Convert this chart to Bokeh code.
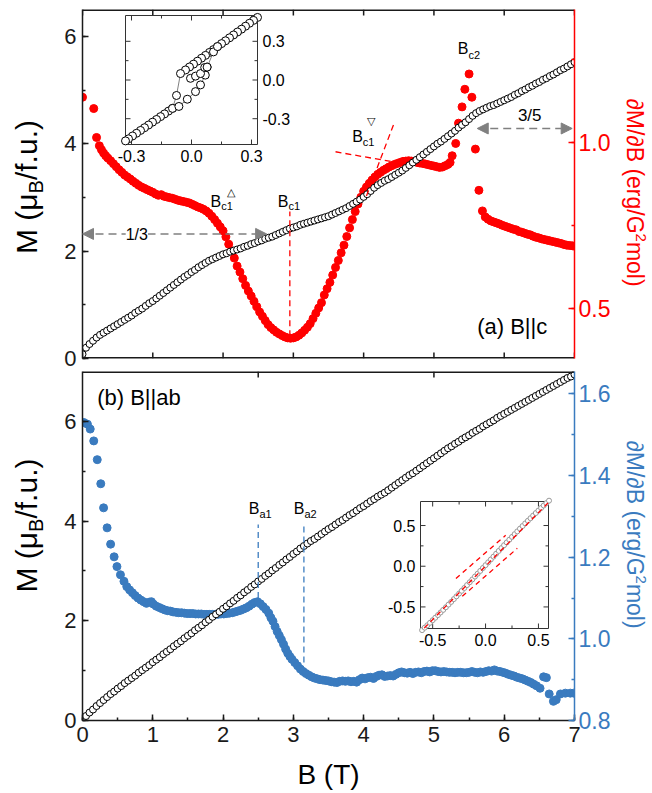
import math
from bokeh.plotting import figure
from bokeh.models import Range1d, LinearAxis, FixedTicker, Label, Arrow, NormalHead
from bokeh.layouts import column, row
from bokeh.embed import file_html
from bokeh.resources import INLINE
from bokeh.core.properties import value

FONT = "Liberation Sans"
RED = "#ff0000"
BLUE = "#3a7bbf"
GRAY = "#808080"
DARK = "#1a1a1a"

# ---------------- data ----------------
B_grid = [0.00,0.05,0.10,0.15,0.20,0.25,0.30,0.35,0.40,0.45,
          0.50,0.55,0.60,0.65,0.70,0.75,0.80,0.85,0.90,0.95,
          1.00,1.05,1.10,1.15,1.20,1.25,1.30,1.35,1.40,1.45,
          1.50,1.55,1.60,1.65,1.70,1.75,1.80,1.85,1.90,1.95,
          2.00,2.05,2.10,2.15,2.20,2.25,2.30,2.35,2.40,2.45,
          2.50,2.55,2.60,2.65,2.70,2.75,2.80,2.85,2.90,2.95,
          3.00,3.05,3.10,3.15,3.20,3.25,3.30,3.35,3.40,3.45,
          3.50,3.55,3.60,3.65,3.70,3.75,3.80,3.85,3.90,3.95,
          4.00,4.05,4.10,4.15,4.20,4.25,4.30,4.35,4.40,4.45,
          4.50,4.55,4.60,4.65,4.70,4.75,4.80,4.85,4.90,4.95,
          5.00,5.05,5.10,5.15,5.20,5.25,5.30,5.35,5.40,5.45,
          5.50,5.55,5.60,5.65,5.70,5.75,5.80,5.85,5.90,5.95,
          6.00,6.05,6.10,6.15,6.20,6.25,6.30,6.35,6.40,6.45,
          6.50,6.55,6.60,6.65,6.70,6.75,6.80,6.85,6.90,6.95,
          7.00]

# M (muB/f.u.), B || c
M_c = [0.08,0.20,0.27,0.33,0.39,0.44,0.48,0.52,0.56,0.60,
       0.64,0.68,0.72,0.76,0.80,0.85,0.89,0.93,0.98,1.03,
       1.07,1.12,1.17,1.22,1.27,1.32,1.37,1.42,1.47,1.52,
       1.56,1.61,1.65,1.70,1.74,1.78,1.82,1.85,1.88,1.91,
       1.94,1.96,1.99,2.01,2.03,2.05,2.08,2.10,2.13,2.15,
       2.18,2.20,2.23,2.25,2.27,2.30,2.33,2.36,2.39,2.42,
       2.44,2.46,2.49,2.51,2.53,2.55,2.57,2.59,2.61,2.63,
       2.65,2.68,2.71,2.74,2.77,2.80,2.84,2.88,2.92,2.96,
       3.01,3.06,3.12,3.18,3.23,3.27,3.31,3.34,3.38,3.42,
       3.46,3.50,3.55,3.60,3.65,3.70,3.75,3.80,3.85,3.90,
       3.95,4.00,4.04,4.09,4.14,4.19,4.24,4.30,4.35,4.40,
       4.46,4.52,4.57,4.61,4.64,4.67,4.70,4.72,4.75,4.78,
       4.81,4.84,4.87,4.91,4.94,4.98,5.01,5.05,5.08,5.12,
       5.15,5.19,5.22,5.26,5.29,5.33,5.37,5.40,5.44,5.48,
       5.52]

# M (muB/f.u.), B || ab
M_ab = [0.03,0.09,0.16,0.22,0.29,0.35,0.41,0.47,0.53,0.58,
        0.64,0.69,0.75,0.80,0.85,0.90,0.96,1.01,1.06,1.11,
        1.17,1.22,1.27,1.33,1.38,1.43,1.49,1.54,1.59,1.65,
        1.70,1.75,1.81,1.86,1.91,1.97,2.02,2.08,2.13,2.18,
        2.24,2.29,2.35,2.40,2.46,2.51,2.57,2.62,2.68,2.73,
        2.79,2.84,2.90,2.95,3.01,3.06,3.12,3.17,3.23,3.28,
        3.34,3.39,3.45,3.50,3.55,3.60,3.64,3.69,3.74,3.79,
        3.84,3.88,3.93,3.98,4.02,4.07,4.12,4.16,4.21,4.26,
        4.30,4.35,4.40,4.44,4.49,4.53,4.57,4.62,4.67,4.72,
        4.77,4.82,4.87,4.92,4.96,5.01,5.06,5.11,5.16,5.21,
        5.26,5.31,5.36,5.41,5.46,5.50,5.55,5.59,5.64,5.68,
        5.72,5.77,5.81,5.85,5.90,5.94,5.98,6.02,6.07,6.11,
        6.15,6.19,6.23,6.27,6.31,6.35,6.39,6.43,6.47,6.51,
        6.55,6.59,6.63,6.67,6.71,6.75,6.79,6.83,6.87,6.90,
        6.94]

# dM/dB (erg/G^2 mol), B || c : (B, value)
chi_c_pts = [(0.00,1.136),(0.16,1.102),(0.20,1.015),(0.24,0.990),(0.27,0.978),(0.30,0.968),
             (0.33,0.960),(0.36,0.953),(0.40,0.945),(0.44,0.936),(0.48,0.927),(0.52,0.918),
             (0.56,0.910),(0.60,0.902),(0.64,0.896),(0.68,0.890),(0.72,0.883),(0.76,0.877),
             (0.80,0.871),(0.84,0.866),(0.88,0.862),(0.92,0.858),(0.96,0.854),(1.00,0.850),
             (1.04,0.845),(1.08,0.841),(1.12,0.843),(1.16,0.838),(1.20,0.836),(1.24,0.834),
             (1.28,0.832),(1.32,0.829),(1.36,0.826),(1.40,0.824),(1.44,0.822),(1.48,0.820),
             (1.52,0.818),(1.56,0.814),(1.60,0.810),(1.64,0.806),(1.68,0.803),(1.72,0.799),
             (1.76,0.794),(1.80,0.787),(1.84,0.778),(1.88,0.768),(1.92,0.757),(1.96,0.746),
             (2.00,0.734),(2.04,0.716),(2.08,0.694),(2.12,0.674),(2.16,0.652),(2.20,0.628),
             (2.24,0.610),(2.28,0.590),(2.32,0.570),(2.36,0.553),(2.40,0.538),(2.44,0.522),
             (2.48,0.506),(2.52,0.490),(2.56,0.477),(2.60,0.464),(2.64,0.452),(2.68,0.443),
             (2.72,0.436),(2.76,0.429),(2.80,0.424),(2.84,0.419),(2.88,0.415),(2.92,0.412),
             (2.96,0.411),(3.00,0.412),(3.04,0.415),(3.08,0.420),(3.12,0.427),(3.16,0.435),
             (3.20,0.444),(3.24,0.455),(3.28,0.470),(3.32,0.486),(3.36,0.502),(3.40,0.518),
             (3.44,0.541),(3.48,0.560),(3.52,0.579),(3.56,0.601),(3.60,0.624),(3.64,0.645),
             (3.68,0.668),(3.72,0.691),(3.76,0.717),(3.80,0.743),(3.84,0.768),(3.88,0.792),
             (3.92,0.815),(3.96,0.835),(4.00,0.853),(4.04,0.866),(4.08,0.877),(4.12,0.887),
             (4.16,0.896),(4.20,0.904),(4.24,0.910),(4.28,0.916),(4.32,0.921),(4.36,0.926),
             (4.40,0.930),(4.44,0.934),(4.48,0.937),(4.52,0.940),(4.56,0.943),(4.60,0.944),
             (4.64,0.945),(4.68,0.944),(4.72,0.943),(4.76,0.940),(4.80,0.938),(4.84,0.937),
             (4.88,0.935),(4.92,0.933),(4.96,0.931),(5.00,0.929),(5.04,0.927),(5.08,0.925),
             (5.12,0.926),(5.16,0.930),(5.20,0.934),(5.23,0.940),(5.26,0.960),(5.31,0.997),
             (5.35,1.058),(5.40,1.107),(5.44,1.160),(5.50,1.206),(5.54,1.136),(5.59,0.980),
             (5.64,0.856),(5.69,0.794),(5.73,0.776),(5.77,0.769),(5.81,0.764),(5.85,0.761),
             (5.89,0.758),(5.93,0.755),(5.97,0.751),(6.01,0.748),(6.05,0.745),(6.09,0.742),
             (6.13,0.739),(6.17,0.737),(6.21,0.732),(6.25,0.730),(6.29,0.727),(6.33,0.724),
             (6.37,0.722),(6.41,0.718),(6.45,0.715),(6.49,0.713),(6.53,0.710),(6.57,0.708),
             (6.61,0.706),(6.65,0.704),(6.69,0.702),(6.73,0.700),(6.77,0.698),(6.81,0.696),
             (6.85,0.693),(6.89,0.691),(6.93,0.690),(6.97,0.689),(7.00,0.688)]

# dM/dB (erg/G^2 mol), B || ab : (B, value)
chi_ab_pts = [(0.02,1.530),(0.07,1.526),(0.11,1.514),(0.16,1.485),(0.21,1.439),(0.26,1.380),
              (0.30,1.321),(0.35,1.272),(0.40,1.232),(0.45,1.201),(0.49,1.177),(0.54,1.157),
              (0.59,1.141),(0.63,1.128),(0.67,1.120),(0.71,1.113),(0.75,1.106),(0.79,1.100),
              (0.83,1.095),(0.87,1.091),(0.91,1.087),(0.95,1.090),(0.98,1.091),(1.01,1.085),
              (1.05,1.080),(1.09,1.077),(1.13,1.074),(1.17,1.071),(1.21,1.069),(1.25,1.068),
              (1.29,1.066),(1.33,1.065),(1.37,1.064),(1.41,1.064),(1.45,1.063),(1.49,1.062),
              (1.53,1.062),(1.57,1.062),(1.61,1.061),(1.65,1.061),(1.69,1.061),(1.73,1.060),
              (1.77,1.060),(1.81,1.060),(1.85,1.060),(1.89,1.060),(1.93,1.060),(1.97,1.061),
              (2.01,1.061),(2.05,1.062),(2.09,1.063),(2.13,1.064),(2.17,1.066),(2.21,1.068),
              (2.25,1.070),(2.29,1.073),(2.33,1.076),(2.37,1.080),(2.41,1.085),(2.45,1.089),
              (2.49,1.091),(2.53,1.086),(2.57,1.079),(2.61,1.072),(2.65,1.063),(2.68,1.052),
              (2.71,1.043),(2.74,1.030),(2.77,1.018),(2.80,1.008),(2.83,0.998),(2.86,0.987),
              (2.89,0.975),(2.92,0.965),(2.95,0.957),(2.98,0.950),(3.02,0.942),(3.06,0.934),
              (3.10,0.926),(3.14,0.920),(3.18,0.915),(3.22,0.911),(3.26,0.907),(3.30,0.904),
              (3.34,0.902),(3.38,0.900),(3.42,0.899),(3.46,0.898),(3.50,0.897),(3.54,0.895),
              (3.58,0.894),(3.62,0.893),(3.66,0.896),(3.70,0.897),(3.74,0.896),(3.78,0.897),
              (3.82,0.895),(3.86,0.896),(3.90,0.894),(3.94,0.900),(3.98,0.904),(4.02,0.902),
              (4.06,0.905),(4.10,0.906),(4.14,0.903),(4.18,0.908),(4.22,0.911),(4.26,0.912),
              (4.30,0.908),(4.34,0.909),(4.38,0.910),(4.42,0.909),(4.46,0.913),(4.50,0.917),
              (4.54,0.919),(4.58,0.917),(4.62,0.916),(4.66,0.918),(4.70,0.915),(4.74,0.918),
              (4.78,0.919),(4.82,0.917),(4.86,0.920),(4.90,0.921),(4.94,0.919),(4.98,0.922),
              (5.02,0.922),(5.06,0.920),(5.10,0.919),(5.14,0.920),(5.18,0.919),(5.22,0.918),
              (5.26,0.918),(5.30,0.917),(5.34,0.918),(5.38,0.918),(5.42,0.917),(5.46,0.917),
              (5.50,0.918),(5.54,0.920),(5.58,0.918),(5.62,0.917),(5.66,0.919),(5.70,0.918),
              (5.74,0.920),(5.78,0.922),(5.82,0.921),(5.86,0.924),(5.90,0.921),(5.94,0.920),
              (5.98,0.918),(6.02,0.916),(6.06,0.913),(6.10,0.911),(6.14,0.909),(6.18,0.906),
              (6.22,0.904),(6.26,0.902),(6.30,0.899),(6.34,0.896),(6.38,0.893),(6.42,0.889),
              (6.46,0.885),(6.51,0.879),(6.56,0.907),(6.60,0.905),(6.64,0.865),(6.70,0.847),
              (6.74,0.851),(6.80,0.865),(6.87,0.867),(6.94,0.867),(6.99,0.867)]

# inset (a): hysteresis loop, field-down branch, field-up part, inner part
ins_c_down = [(0.33,0.485),(0.31,0.462),(0.29,0.440),(0.27,0.417),(0.25,0.394),(0.23,0.372),
              (0.21,0.349),(0.19,0.327),(0.17,0.304),(0.15,0.282),(0.13,0.259),(0.11,0.236),
              (0.09,0.214),(0.07,0.191),(0.05,0.169),(0.03,0.146),(0.01,0.123),(-0.01,0.101),
              (-0.03,0.078),(-0.055,0.050),(-0.075,-0.120),(-0.095,-0.220),(-0.115,-0.241),
              (-0.135,-0.263),(-0.155,-0.284),(-0.175,-0.306),(-0.195,-0.327),(-0.215,-0.349),
              (-0.235,-0.370),(-0.255,-0.391),(-0.275,-0.413),(-0.295,-0.434),(-0.315,-0.456),
              (-0.330,-0.472)]
ins_c_up = [(-0.095,-0.220),(-0.063,-0.205),(-0.021,-0.149),(0.020,-0.090),(0.045,-0.038),
            (0.069,0.038),(0.078,0.100),(0.110,0.218),(0.130,0.259)]
ins_c_inner = [(-0.005,0.013),(0.020,0.030),(0.045,0.050),(0.066,0.097),(0.078,0.100)]

# inset (b): M vs B around zero
ins_ab_x = [-0.600,-0.575,-0.550,-0.525,-0.500,-0.475,-0.450,-0.425,-0.400,-0.375,
            -0.350,-0.325,-0.300,-0.275,-0.250,-0.225,-0.200,-0.175,-0.150,-0.125,
            -0.100,-0.075,-0.050,-0.025,0.000,0.025,0.050,0.075,0.100,0.125,
            0.150,0.175,0.200,0.225,0.250,0.275,0.300,0.325,0.350,0.375,
            0.400,0.425,0.450,0.475,0.500,0.525,0.550,0.575,0.600]
ins_ab_y = [-0.785,-0.755,-0.725,-0.695,-0.663,-0.632,-0.600,-0.568,-0.536,-0.504,
            -0.471,-0.438,-0.404,-0.370,-0.336,-0.302,-0.267,-0.232,-0.197,-0.162,
            -0.127,-0.092,-0.057,-0.022,0.013,0.048,0.083,0.118,0.153,0.188,
            0.223,0.258,0.292,0.326,0.360,0.394,0.428,0.461,0.494,0.526,
            0.558,0.590,0.622,0.653,0.684,0.715,0.746,0.775,0.805]
# red dashed guide lines in inset (b): (x0, y0, x1, y1)
ins_ab_guides = [(-0.58,-0.76,0.60,0.79),(-0.28,-0.15,0.19,0.38),(-0.22,-0.37,0.30,0.22)]

# ticks
x_ticks = [0, 1, 2, 3, 4, 5, 6, 7]
x_tick_labels = ["0", "1", "2", "3", "4", "5", "6", "7"]
x_minor_ab = [0, 0.5, 1, 1.5, 2, 2.5, 3, 3.5, 4, 4.5, 5, 5.5, 6, 6.5, 7]
x_top_ab = [2.5, 5.0]
M_ticks = [0, 2, 4, 6]
M_tick_labels = ["0", "2", "4", "6"]
M_minor = [0, 1, 2, 3, 4, 5, 6]
chi_c_ticks = [0.5, 1.0]
chi_c_tick_labels = ["0.5", "1.0"]
chi_c_minor = [0.5, 0.75, 1.0, 1.25]
chi_ab_ticks = [0.8, 1.0, 1.2, 1.4, 1.6]
chi_ab_tick_labels = ["0.8", "1.0", "1.2", "1.4", "1.6"]
chi_ab_minor = [0.8, 0.9, 1.0, 1.1, 1.2, 1.3, 1.4, 1.5, 1.6]
ins_c_ticks = [-0.3, 0.0, 0.3]
ins_c_tick_labels = ["-0.3", "0.0", "0.3"]
ins_c_minor = [-0.15, 0.15]
ins_ab_ticks = [-0.5, 0.0, 0.5]
ins_ab_tick_labels = ["-0.5", "0.0", "0.5"]
ins_ab_minor = [-0.25, 0.25]

# annotation anchors
Bc1_line = (2.95, 0.417, 0.792)          # x, chi from, chi to
Bc1v_lines = [(3.60, 0.972, 4.406, 0.942), (4.04, 0.839, 4.439, 1.061)]
Ba1_line = (2.50, 1.10, 1.28)
Ba2_line = (3.15, 0.942, 1.28)
arrow_13 = (0.0, 2.62, 2.32)
arrow_35 = (5.616, 6.967, 4.284)

# ---------------- layout (px) ----------------
LW, RW = 48, 36                 # side strips holding the rotated axis titles
MAIN_L, MAIN_R = 34, 42         # borders of the plot canvases
FW = 492                        # frame width
TOP_FH, TOP_BT, TOP_BB = 349, 9, 13
BOT_FH, BOT_BT, BOT_BB = 349, 0, 36
TOP_H = TOP_BT + TOP_FH + TOP_BB
BOT_H = BOT_BT + BOT_FH + BOT_BB
XL_H = 36
TOTAL_W = LW + MAIN_L + FW + MAIN_R + RW
FRAME_L = LW + MAIN_L
TOP_FRAME = (FRAME_L, FRAME_L + FW, TOP_BT, TOP_BT + TOP_FH)
BOT_FRAME = (FRAME_L, FRAME_L + FW, TOP_H + BOT_BT, TOP_H + BOT_BT + BOT_FH)
MID = 0.35                      # baseline -> middle of text box, in em

# ---------------- helpers ----------------
W = {' ': 0.278, '(': 0.333, ')': 0.333, '/': 0.278, '.': 0.278, '|': 0.26, 'M': 0.833,
     'B': 0.667, 'T': 0.611, 'G': 0.778, 'e': 0.556, 'r': 0.333, 'g': 0.556, 'm': 0.833,
     'o': 0.556, 'l': 0.222, 'f': 0.278, 'u': 0.556, 'μ': 0.576, '∂': 0.494, 'c': 0.5,
     'a': 0.556, 'b': 0.556, '-': 0.333}


def tw(s, size):
    return sum(W.get(ch, 0.556) for ch in s) * size


def rich(p, x, y, parts, angle=0.0, align="left", color="black", yr="default"):
    """x, y = start (or centre) of the baseline; parts = (text, px size, baseline shift)"""
    total = sum(tw(t, sz) for t, sz, _ in parts)
    s = -total / 2 if align == "center" else 0.0
    ca, sa = math.cos(angle), math.sin(angle)
    for t, sz, h in parts:
        hh = h + MID * sz
        p.add_layout(Label(x=x, y=y, text=t, angle=angle, text_font=FONT,
                           text_font_size=f"{sz}px", text_color=color,
                           text_align="left", text_baseline="middle",
                           x_offset=s * ca - hh * sa, y_offset=s * sa + hh * ca,
                           y_range_name=yr))
        s += tw(t, sz)


def plain(p, x, y, text, size, align="left", dx=0, dy=0, **kw):
    p.add_layout(Label(x=x, y=y, text=text, text_font=FONT, text_font_size=f"{size}px",
                       text_color="black", text_align=align, text_baseline="middle",
                       x_offset=dx, y_offset=dy + MID * size, **kw))


def add_axis(p, place, ticks, minor, labels, color=DARK, yr=None, size="22px", standoff=6):
    kw = {"y_range_name": yr} if yr else {}
    ax = LinearAxis(ticker=FixedTicker(ticks=ticks, minor_ticks=minor), **kw)
    ax.major_tick_in = 6
    ax.major_tick_out = 0
    ax.minor_tick_in = 3
    ax.minor_tick_out = 0
    ax.axis_line_color = color
    ax.axis_line_width = 1.5
    ax.major_tick_line_color = color
    ax.major_tick_line_width = 1.5
    ax.minor_tick_line_color = color
    ax.minor_tick_line_width = 1.5
    ax.major_label_text_font = FONT
    ax.major_label_text_color = color
    ax.major_label_text_font_size = size
    ax.major_label_standoff = standoff
    ax.major_label_overrides = {t: l for t, l in zip(ticks, labels)}
    p.add_layout(ax, place)
    return ax


def edge(p, ticks, y_edge, y_in, fh, yspan, L=6):
    """frame edge line plus inward tick marks (glyphs, drawn in data space)"""
    u = yspan / fh
    p.segment([0], [y_edge], [7], [y_edge], line_color=DARK, line_width=3)
    yt = y_edge + (L * u if y_in > y_edge else -L * u)
    p.segment(ticks, [y_edge] * len(ticks), ticks, [yt] * len(ticks),
              line_color=DARK, line_width=1.5)


def base_fig(y0, y1, frame_h, btop, bbot):
    p = figure(frame_width=FW, frame_height=frame_h, x_range=Range1d(0, 7),
               y_range=Range1d(y0, y1), x_axis_location=None, y_axis_location=None,
               output_backend="svg", toolbar_location=None,
               min_border_left=MAIN_L, min_border_right=MAIN_R,
               min_border_top=btop, min_border_bottom=bbot)
    p.grid.visible = False
    p.outline_line_color = None
    p.background_fill_color = "white"
    p.border_fill_color = "white"
    return p


def strip(w, h):
    s = figure(frame_width=w, frame_height=h, x_range=Range1d(0, w), y_range=Range1d(0, h),
               x_axis_location=None, y_axis_location=None, min_border=0,
               output_backend="svg", toolbar_location=None)
    s.grid.visible = False
    s.outline_line_color = None
    s.background_fill_color = "white"
    s.border_fill_color = "white"
    return s


def add_inset(p, key, xlim, ylim, box, frame, xt, xtl, xmin, yt, ytl, ymin, yside):
    fl, fr, ft, fb = frame
    bl, br, bt, bb = box
    ux = (xlim[1] - xlim[0]) / (br - bl)
    uy = (ylim[1] - ylim[0]) / (bb - bt)
    p.extra_x_ranges[key + "x"] = Range1d(xlim[0] - (bl - fl) * ux, xlim[1] + (fr - br) * ux)
    p.extra_y_ranges[key + "y"] = Range1d(ylim[0] - (fb - bb) * uy, ylim[1] + (bt - ft) * uy)
    kw = dict(x_range_name=key + "x", y_range_name=key + "y")
    p.quad(left=[xlim[0]], right=[xlim[1]], bottom=[ylim[0]], top=[ylim[1]],
           fill_color="white", line_color="#333333", line_width=1, **kw)
    x0, y0, x1, y1 = [], [], [], []
    for t, L in [(t, 5) for t in xt] + [(t, 3) for t in xmin]:
        x0 += [t, t]; x1 += [t, t]
        y0 += [ylim[0], ylim[1]]; y1 += [ylim[0] + L * uy, ylim[1] - L * uy]
    for t, L in [(t, 5) for t in yt] + [(t, 3) for t in ymin]:
        y0 += [t, t]; y1 += [t, t]
        x0 += [xlim[0], xlim[1]]; x1 += [xlim[0] + L * ux, xlim[1] - L * ux]
    p.segment(x0, y0, x1, y1, line_color="#333333", line_width=1, **kw)
    p.text(x=xt, y=[ylim[0] - 5 * uy] * len(xt), text=xtl, text_align="center",
           text_baseline="top", text_font=value(FONT), text_font_size=value("16px"),
           text_color="black", **kw)
    if yside == "right":
        p.text(x=[xlim[1] + 5 * ux] * len(yt), y=yt, text=ytl, text_align="left",
               text_baseline="middle", text_font=value(FONT), text_font_size=value("16px"),
               text_color="black", **kw)
    else:
        p.text(x=[xlim[0] - 5 * ux] * len(yt), y=yt, text=ytl, text_align="right",
               text_baseline="middle", text_font=value(FONT), text_font_size=value("16px"),
               text_color="black", **kw)
    return kw


M_LABEL = [("M (μ", 30, 0), ("B", 20, -6), ("/f.u.)", 30, 0)]
CHI_LABEL = [("∂M/∂B (erg/G", 23, 0), ("2", 15, 9), ("mol)", 23, 0)]

# ---------------- top panel (B || c) ----------------
top = base_fig(0, 6.5, TOP_FH, TOP_BT, TOP_BB)
top.extra_y_ranges = {"chi": Range1d(0.35, 1.40)}
add_axis(top, "left", M_ticks, M_minor, M_tick_labels)
add_axis(top, "right", chi_c_ticks, chi_c_minor, chi_c_tick_labels, color=RED, yr="chi",
         size="23px", standoff=4)

top.scatter([b for b, _ in chi_c_pts], [v for _, v in chi_c_pts], marker="circle", size=8,
            fill_color=RED, line_color=RED, y_range_name="chi")
top.scatter(B_grid, M_c, marker="circle", size=7, fill_color="white", line_color="black",
            line_width=1)
edge(top, x_ticks, 6.5, 0, TOP_FH, 6.5)
edge(top, x_ticks, 0, 6.5, TOP_FH, 6.5)

top.segment([Bc1_line[0]], [Bc1_line[1]], [Bc1_line[0]], [Bc1_line[2]], line_color=RED,
            line_width=1.3, line_dash="6 4", y_range_name="chi")
top.segment([l[0] for l in Bc1v_lines], [l[1] for l in Bc1v_lines],
            [l[2] for l in Bc1v_lines], [l[3] for l in Bc1v_lines], line_color=RED,
            line_width=1.3, line_dash="6 4", y_range_name="chi")

for (xa, xb, yv) in [arrow_13, arrow_35]:
    top.add_layout(Arrow(x_start=xa, y_start=yv, x_end=xb, y_end=yv,
                         start=NormalHead(size=11, fill_color=GRAY, line_color=GRAY),
                         end=NormalHead(size=11, fill_color=GRAY, line_color=GRAY),
                         line_color=GRAY, line_width=1.5, line_dash="8 5"))

plain(top, 0.773, 2.21, "1/3", 16, align="center", background_fill_color="white")
plain(top, 6.363, 4.407, "3/5", 17, align="center")
rich(top, 2.779, 2.828, [("B", 16, 0), ("c1", 11, -3)])
rich(top, 1.821, 2.828, [("B", 16, 0), ("c1", 11, -3)])
plain(top, 1.821, 2.828, "△", 11, dx=16.5, dy=11)
rich(top, 3.837, 4.036, [("B", 16, 0), ("c1", 11, -4)])
plain(top, 3.837, 4.036, "▽", 11, dx=14.5, dy=17)
rich(top, 5.340, 5.664, [("B", 16, 0), ("c2", 11, -4)])
plain(top, 6.787, 0.459, "(a)   B||c", 22, align="right")

add_inset(top, "ic", (-0.33, 0.33), (-0.5, 0.5), (125, 257, 15, 144), TOP_FRAME,
          ins_c_ticks, ins_c_tick_labels, ins_c_minor,
          ins_c_ticks, ins_c_tick_labels, ins_c_minor, "right")
ikw = dict(x_range_name="icx", y_range_name="icy")
for path in [ins_c_down, ins_c_up, ins_c_inner]:
    top.line([a for a, _ in path], [b for _, b in path], line_color=GRAY, line_width=1, **ikw)
for path in [ins_c_down, ins_c_up, ins_c_inner]:
    top.scatter([a for a, _ in path], [b for _, b in path], marker="circle", size=8,
                fill_color="white", line_color="black", line_width=1, **ikw)

# ---------------- bottom panel (B || ab) ----------------
bot = base_fig(0, 7.0, BOT_FH, BOT_BT, BOT_BB)
bot.extra_y_ranges = {"chi": Range1d(0.8, 1.655)}
add_axis(bot, "left", M_ticks, M_minor, M_tick_labels)
add_axis(bot, "below", x_ticks, x_minor_ab, x_tick_labels)
add_axis(bot, "right", chi_ab_ticks, chi_ab_minor, chi_ab_tick_labels, color=BLUE, yr="chi",
         size="23px", standoff=4)

bot.scatter([b for b, _ in chi_ab_pts], [v for _, v in chi_ab_pts], marker="circle", size=8,
            fill_color=BLUE, line_color=BLUE, y_range_name="chi")
bot.scatter(B_grid, M_ab, marker="circle", size=7, fill_color="white", line_color="black",
            line_width=1)
edge(bot, x_top_ab, 7.0, 0, BOT_FH, 7.0)
bot.segment([Ba1_line[0], Ba2_line[0]], [Ba1_line[1], Ba2_line[1]],
            [Ba1_line[0], Ba2_line[0]], [Ba1_line[2], Ba2_line[2]], line_color=BLUE,
            line_width=1.3, line_dash="6 4", y_range_name="chi")

rich(bot, 2.366, 4.134, [("B", 16, 0), ("a1", 11, -3)])
rich(bot, 3.006, 4.134, [("B", 16, 0), ("a2", 11, -3)])
plain(bot, 0.209, 6.328, "(b)   B||ab", 22)

add_inset(bot, "ib", (-0.615, 0.595), (-0.765, 0.795), (420, 548, 501, 628), BOT_FRAME,
          ins_ab_ticks, ins_ab_tick_labels, ins_ab_minor,
          ins_ab_ticks, ins_ab_tick_labels, ins_ab_minor, "left")
bkw = dict(x_range_name="ibx", y_range_name="iby")
bot.line(ins_ab_x, ins_ab_y, line_color=GRAY, line_width=1, **bkw)
bot.scatter(ins_ab_x, ins_ab_y, marker="circle", size=5, fill_color="white",
            line_color="#999999", line_width=1, **bkw)
bot.segment([g[0] for g in ins_ab_guides], [g[1] for g in ins_ab_guides],
            [g[2] for g in ins_ab_guides], [g[3] for g in ins_ab_guides],
            line_color=RED, line_width=1.3, line_dash="5 4", **bkw)

# ---------------- axis-title strips ----------------
lt = strip(LW, TOP_H)
rich(lt, 36.7, TOP_H - 177.5, M_LABEL, angle=math.pi / 2, align="center")
rt = strip(RW, TOP_H)
rich(rt, 10.7, TOP_H - 183, CHI_LABEL, angle=-math.pi / 2, align="center", color=RED)
lb = strip(LW, BOT_H)
rich(lb, 36.7, BOT_H - (525 - TOP_H), M_LABEL, angle=math.pi / 2, align="center")
rb = strip(RW, BOT_H)
rich(rb, 10.7, BOT_H - (534 - TOP_H), CHI_LABEL, angle=-math.pi / 2, align="center",
     color=BLUE)
xl = strip(TOTAL_W, XL_H)
rich(xl, LW + MAIN_L + FW / 2, 8, [("B (T)", 28, 0)], align="center")

p = column(row(lt, top, rt), row(lb, bot, rb), xl)
open("out.html", "w").write(file_html(p, INLINE))
